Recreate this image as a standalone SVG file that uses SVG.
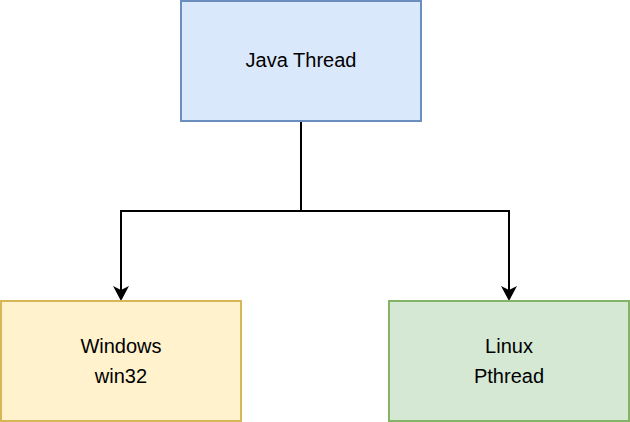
<svg xmlns="http://www.w3.org/2000/svg" width="630" height="422" viewBox="0 0 630 422">
<style>text{font-family:"Liberation Sans",Arial,sans-serif;font-size:20px;fill:#000;text-anchor:middle}.e{fill:none;stroke:#000;stroke-width:2}</style>
<defs><marker id="a" markerWidth="10" markerHeight="10" refX="5" refY="9" orient="auto" markerUnits="userSpaceOnUse"><path d="M0,0 L5,3 L10,0 L5,12Z" transform="translate(0,0)" fill="#000"/></marker></defs>
<rect width="630" height="422" fill="#fff"/>
<g id="connectors">
<path class="e" d="M301,121 V211 H121 V296"/>
<path class="e" d="M301,211 H509 V296"/>
<path d="M113,286 L121,301 L129,286 L121,290Z"/>
<path d="M501,286 L509,301 L517,286 L509,290Z"/>
</g>
<g id="java"><rect x="181" y="1" width="240" height="120" fill="#dae8fc" stroke="#6c8ebf" stroke-width="2"/><text x="301" y="67">Java Thread</text></g>
<g id="windows"><rect x="1" y="301" width="240" height="120" fill="#fff2cc" stroke="#d6b656" stroke-width="2"/><text x="121" y="353">Windows</text><text x="121" y="383">win32</text></g>
<g id="linux"><rect x="389" y="301" width="240" height="120" fill="#d5e8d4" stroke="#82b366" stroke-width="2"/><text x="509" y="353">Linux</text><text x="509" y="383">Pthread</text></g>
</svg>
